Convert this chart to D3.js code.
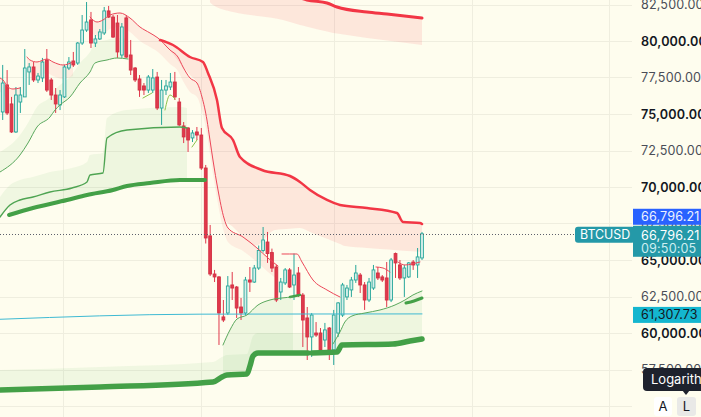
<!DOCTYPE html>
<html>
<head>
<meta charset="utf-8">
<script src="https://cdn.jsdelivr.net/npm/d3@7"></script>
<style>
  html, body { margin: 0; padding: 0; background: #fefdee; overflow: hidden; }
  svg { display: block; font-family: Inter, "Noto Sans", sans-serif; }
</style>
</head>
<body>
<svg id="chart" width="701" height="417"></svg>
<script>
// candles, oldest first
var candleOpen = [75140, 76990, 75690, 73770, 75820, 76170, 77880, 78220, 77330, 77470,
  78700, 77330, 76300, 75620, 76170, 78150, 78630, 78490, 79860, 80750,
  81440, 79860, 80140, 80550, 82060, 81640, 81230, 79040, 81580, 79040,
  78150, 77400, 76920, 76640, 76640, 77530, 75410, 76640, 76850, 77190,
  75820, 74180, 74040, 73360, 73770, 73560, 71300, 66650, 64040, 63840,
  61100, 61370, 63290, 63150, 61780, 61370, 63630, 63490, 64450, 65650,
  66230, 65510, 64520, 62810, 63430, 64320, 63290, 64110, 62600, 61030,
  59730, 60000, 60000, 59520, 60340, 58840, 60000, 61230, 62470, 62950,
  63630, 63970, 63290, 62260, 63080, 64110, 63840, 63770, 62260, 65440,
  64660, 63770, 63840, 64860, 64660, 65140];
var candleHigh = [78360, 78010, 76170, 76850, 76850, 79450, 78490, 78560, 77810, 78840,
  79450, 77470, 76780, 76640, 78360, 78900, 79250, 79930, 81780, 82670,
  81990, 80410, 80820, 82330, 82400, 81780, 81780, 81230, 81780, 80070,
  78220, 77670, 77120, 77670, 78080, 77880, 77330, 77330, 77810, 77880,
  76100, 74450, 74110, 73900, 74110, 74040, 71510, 67400, 64320, 63900,
  62260, 63900, 64180, 63220, 62400, 63840, 64520, 64660, 65990, 67260,
  66920, 65780, 64660, 63770, 64450, 64450, 65440, 64520, 62740, 61780,
  61370, 60750, 60340, 60690, 60410, 61580, 62120, 63430, 63290, 63840,
  64660, 64110, 63490, 63770, 64660, 64520, 63970, 64860, 65140, 65510,
  65000, 64660, 64860, 65000, 65820, 66920];
var candleLow = [74590, 74930, 73700, 73700, 75070, 76170, 76990, 77190, 77120, 77190,
  76510, 75960, 75070, 75270, 76100, 78010, 78220, 78360, 79730, 80620,
  79520, 79590, 80070, 80410, 81580, 80210, 78840, 78840, 78840, 77670,
  77190, 76170, 76300, 76440, 76440, 75270, 74250, 76300, 76640, 75960,
  74180, 73010, 72400, 73080, 73220, 71170, 66130, 63900, 63490, 59180,
  60750, 61230, 62260, 61030, 60890, 61230, 62810, 63430, 64320, 65510,
  64800, 64180, 62120, 62260, 63290, 63080, 62260, 62470, 59040, 58150,
  58360, 59730, 58630, 59040, 58150, 57810, 59730, 61100, 62260, 62470,
  63430, 62740, 61580, 62120, 62950, 63630, 63490, 61780, 62120, 63770,
  63630, 62470, 63770, 64320, 63770, 65000];
var candleClose = [77120, 75070, 73770, 76300, 76300, 78150, 78220, 77330, 77600, 78560,
  76640, 76300, 75690, 76300, 78220, 78560, 78360, 79860, 80750, 81300,
  79860, 80140, 80620, 82060, 81640, 80270, 79250, 80960, 78900, 78010,
  77330, 76640, 76640, 77530, 77470, 75410, 76640, 76920, 77190, 76170,
  74250, 73430, 73220, 73700, 73560, 71300, 66510, 64040, 63840, 61370,
  60890, 63220, 63080, 61710, 61370, 63630, 63490, 64450, 65650, 66370,
  65440, 64450, 62260, 63490, 64320, 63150, 63970, 62600, 60890, 59730,
  61230, 59860, 58840, 60210, 58700, 61230, 62060, 63290, 63080, 63630,
  64110, 63290, 62260, 63490, 64320, 63770, 63630, 62260, 65000, 64800,
  63770, 64450, 64800, 64660, 65210, 66796.21];

var symbol = "BTCUSD";
var lastPrice = 66796.21;
var lastTime = "09:50:05";
var refPrice = 61307.73;

// axis
var gridPrices = [55000, 57500, 60000, 62500, 65000, 67500, 70000, 72500, 75000, 77500, 80000, 82500];
var labelPrices = [57500, 60000, 62500, 65000, 67500, 70000, 72500, 75000, 77500, 80000, 82500];
var gridIdx = [13.7, 45, 75, 106.3, 137.4];

// band lines, [candle index, price]
var redFar = [[46.96, 84863], [58.29, 83835], [65.09, 83219], [68.94, 82808], [73.47, 82603], [75.74, 82329], [82.53, 81986], [87.07, 81849], [95, 81575]];
var redFarLow = [[45.83, 82945], [47.64, 82466], [52.17, 81986], [63.5, 81438], [67.35, 81096], [74.83, 80548], [82.53, 80205], [95, 79726]];
var redOuter = [[35.64, 80068], [38.58, 79726], [42.43, 78904], [45.38, 78562], [46.51, 77808], [48.55, 75959], [49.68, 74041], [52.18, 73219], [53.76, 72055], [58.74, 71165], [65.09, 70754], [67.35, 70343], [69.62, 69795], [73.47, 69110], [76.42, 68768], [82.53, 68562], [89.33, 68220], [90.69, 67603], [94.54, 67535], [95, 67466]];
var pinkLow = [[35.64, 80068], [37.9, 79384], [40.85, 78219], [44.02, 77123], [45.15, 76165], [46.28, 74589], [47.64, 71850], [48.78, 69795], [50.13, 67877], [54.44, 66576], [57.61, 65993], [61.69, 67055], [67.35, 67192], [74.15, 66370], [77.55, 65959], [85.48, 65754], [95, 65549]];
var redIn1 = [[-0.61, 77466], [0.07, 77329], [1.2, 76849], [2.33, 76712], [3.92, 76781]];
var redIn2 = [[5.51, 78904], [6.18, 78699], [7.77, 78562], [10.04, 78767], [11.4, 78562], [13.66, 78356], [15.93, 78562]];
var redIn3 = [[19.78, 81644], [21.36, 81301], [22.72, 81438], [24.31, 81781], [26.57, 81918], [28.84, 81575], [31.1, 80959], [33.37, 80548], [35.18, 80206], [37.9, 79384], [39.71, 78904], [40.85, 78219], [42.43, 77466], [44.02, 77123], [45.15, 76165], [46.28, 74589], [46.96, 73219], [47.64, 71850], [48.78, 69795], [50.13, 67877], [51.04, 67193], [54.44, 66576], [57.61, 65822], [60.1, 65137], [62.37, 64590]];
var redIn4 = [[63.28, 65412], [66.67, 65412], [67.81, 64864], [70.3, 63631], [73.47, 62946], [76.41, 62466]];
var redIn5 = [[84.57, 64521], [86.16, 64453], [87.74, 64179]];
var redIn6 = [[89.55, 64864], [91.14, 64658], [92.73, 64727], [94.54, 64864]];

var greenIn1 = [[-0.61, 71028], [3.92, 72192], [5.73, 73014], [7.77, 74110], [10.72, 74795], [11.85, 75274], [12.98, 75617], [15.25, 76165], [17.51, 77123], [19.78, 77877], [20.91, 78493], [23.63, 78699], [25.89, 78836], [28.39, 78767]];
var greenIn2 = [[-0.61, 67946], [1.65, 68768], [3.92, 69110], [6.86, 69316], [10.72, 69658], [15.7, 69932], [19.1, 70343], [19.78, 70822], [22.72, 70959], [23.63, 73356], [28.16, 73904], [40.17, 74110], [41.75, 74041]];
var greenOut1 = [[1.43, 68083], [6.86, 68562], [14.57, 69110], [19.1, 69453], [24.99, 69795], [28.16, 70069], [33.37, 70274], [40.17, 70480], [45.83, 70480]];
var greenBits = [
  [[31.78, 76096], [33.82, 76439]],
  [[36.77, 75274], [37.9, 76302], [39.02, 76028]],
  [[42.89, 72740], [44.02, 73219]]
];
var greenOut2a = [[-0.61, 56097], [22.04, 56303], [47.64, 56645], [49.68, 56988], [50.82, 57124], [55.34, 57193], [56.03, 57741], [56.71, 58425], [57.85, 58631], [69.17, 58631]];
var greenOut2b = [[70.07, 58631], [75.74, 58700], [76.87, 59179], [88.42, 59248], [92.27, 59453], [95, 59590]];
var greenIn3 = [[49.91, 59179], [51.49, 60206], [53.08, 60959], [55.34, 61233], [57.84, 61918], [60.56, 62261], [63.28, 62398], [65.77, 62466]];
var greenIn4 = [[74.83, 59248], [76.41, 60069], [77.52, 60754], [79.13, 61165], [82.08, 61370], [85.48, 61576], [88.88, 61918], [91.14, 62261], [92.95, 62603], [95, 62877]];
var greenOut3 = [[91.37, 62055], [93.19, 62192], [95, 62398]];
var greenOut4 = [[65.09, 62466], [67.35, 62603]];

var cyanLine = [[-0.7, 60939], [44.7, 61290], [95, refPrice]];

var W = 701, H = 417, plotRight = 632;
var svg = d3.select("#chart");

var x = d3.scaleLinear().domain([0, 95]).range([2.7, 422]);
var y = d3.scaleLinear().domain([55000, 82500]).range([406, 4.5]);

svg.append("rect").attr("width", W).attr("height", H).attr("fill", "#fefdee");
svg.append("defs").append("clipPath").attr("id", "plot")
  .append("rect").attr("width", plotRight).attr("height", H);

// grid
svg.append("g").selectAll("line").data(gridPrices).enter().append("line")
  .attr("x1", 0).attr("x2", plotRight)
  .attr("y1", function(d) { return Math.round(y(d)) + 0.5; })
  .attr("y2", function(d) { return Math.round(y(d)) + 0.5; })
  .attr("stroke", "#efeedf");
svg.append("g").selectAll("line").data(gridIdx).enter().append("line")
  .attr("x1", function(d) { return Math.round(x(d)) + 0.5; })
  .attr("x2", function(d) { return Math.round(x(d)) + 0.5; })
  .attr("y1", 0).attr("y2", H)
  .attr("stroke", "#efeedf");

var plot = svg.append("g").attr("clip-path", "url(#plot)");

var line = d3.line()
  .x(function(d) { return x(d[0]); })
  .y(function(d) { return y(d[1]); })
  .curve(d3.curveMonotoneX);

// fill between two lines over the index range they share
function band(top, bot) {
  var lo = Math.max(top[0][0], bot[0][0]);
  var hi = Math.min(top[top.length - 1][0], bot[bot.length - 1][0]);
  var ft = d3.scaleLinear().domain(top.map(function(d) { return d[0]; })).range(top.map(function(d) { return d[1]; }));
  var fb = d3.scaleLinear().domain(bot.map(function(d) { return d[0]; })).range(bot.map(function(d) { return d[1]; }));
  var xs = top.concat(bot).map(function(d) { return d[0]; })
    .filter(function(v) { return v >= lo && v <= hi; });
  xs.push(lo, hi);
  xs = Array.from(new Set(xs)).sort(d3.ascending);
  return xs.map(function(v) { return { i: v, t: ft(v), b: fb(v) }; });
}
var bandArea = d3.area()
  .x(function(d) { return x(d.i); })
  .y0(function(d) { return y(d.b); })
  .y1(function(d) { return y(d.t); })
  .curve(d3.curveMonotoneX);

// soft strip on one side of a line
function strip(data, h, color) {
  plot.append("path").datum(data)
    .attr("fill", color)
    .attr("d", d3.area()
      .x(function(d) { return x(d[0]); })
      .y0(function(d) { return y(d[1]); })
      .y1(function(d) { return y(d[1]) + h; })
      .curve(d3.curveMonotoneX));
}

var pink = "rgba(242,54,69,0.11)", lightGreen = "rgba(76,175,80,0.09)";

plot.append("path").datum(band(redFar, redFarLow)).attr("fill", pink).attr("d", bandArea);
plot.append("path").datum(band(redOuter, pinkLow)).attr("fill", pink).attr("d", bandArea);
[redIn1, redIn2, redIn3].forEach(function(d) { strip(d, 14, "rgba(242,54,69,0.08)"); });

plot.append("path").datum(band(greenIn2, greenOut1)).attr("fill", lightGreen).attr("d", bandArea);
plot.append("path").datum(band(greenIn3, greenOut2a)).attr("fill", lightGreen).attr("d", bandArea);
plot.append("path").datum(band(greenIn4, greenOut2b)).attr("fill", lightGreen).attr("d", bandArea);
[greenIn1, greenIn2, greenOut2a].forEach(function(d) { strip(d, -20, "rgba(76,175,80,0.08)"); });

// candles
var idx = d3.range(candleOpen.length);
var up = function(i) { return candleClose[i] >= candleOpen[i]; };
var candles = plot.append("g").selectAll("g").data(idx).enter().append("g");
candles.append("line")
  .attr("x1", function(i) { return x(i); })
  .attr("x2", function(i) { return x(i); })
  .attr("y1", function(i) { return y(candleHigh[i]); })
  .attr("y2", function(i) { return y(candleLow[i]); })
  .attr("stroke", function(i) { return up(i) ? "#26a69a" : "#e0394c"; })
  .attr("stroke-width", 1);
candles.append("rect")
  .attr("x", function(i) { return x(i) - 1.4; })
  .attr("width", 2.8)
  .attr("y", function(i) { return y(Math.max(candleOpen[i], candleClose[i])); })
  .attr("height", function(i) { return Math.max(1, Math.abs(y(candleOpen[i]) - y(candleClose[i]))); })
  .attr("fill", function(i) { return up(i) ? "#d7efe9" : "#e0394c"; })
  .attr("stroke", function(i) { return up(i) ? "#26a69a" : "#d23043"; })
  .attr("stroke-width", 0.9);

// band lines
function drawLine(data, color, width) {
  plot.append("path").datum(data)
    .attr("fill", "none")
    .attr("stroke", color)
    .attr("stroke-width", width)
    .attr("stroke-linecap", "round")
    .attr("stroke-linejoin", "round")
    .attr("d", line);
}
drawLine(cyanLine, "#3fbad3", 1);
drawLine(redFar, "#f23645", 3);
drawLine(redOuter, "#f23645", 2.5);
[redIn1, redIn2, redIn3, redIn4, redIn5, redIn6].forEach(function(d) { drawLine(d, "#ec4658", 1); });
drawLine(greenOut1, "#43a047", 4);
drawLine(greenOut2a, "#43a047", 5.5);
drawLine(greenOut2b, "#43a047", 5.5);
drawLine(greenOut3, "#43a047", 3);
drawLine(greenOut4, "#43a047", 2.5);
[greenIn1, greenIn3, greenIn4].forEach(function(d) { drawLine(d, "#5aa85d", 1); });
drawLine(greenIn2, "#4ea452", 1.4);
greenBits.forEach(function(d) { drawLine(d, "#8bc34a", 1); });

// last price dotted line
var yLast = y(lastPrice);
svg.append("line")
  .attr("x1", 0).attr("x2", 575)
  .attr("y1", Math.round(yLast) + 0.5).attr("y2", Math.round(yLast) + 0.5)
  .attr("stroke", "#5d606b").attr("stroke-dasharray", "1 2");

var fmt = d3.format(",.2f");
var fs = 12.6;

// price scale labels
svg.append("g").selectAll("text").data(labelPrices).enter().append("text")
  .attr("x", 641)
  .attr("y", function(d) { return y(d); })
  .attr("dy", "0.36em")
  .attr("font-size", fs)
  .attr("letter-spacing", 0.15)
  .attr("font-weight", function(d) { return d % 5000 === 0 ? 600 : 400; })
  .attr("fill", function(d) { return d % 5000 === 0 ? "#131722" : "#4a4d57"; })
  .text(function(d) { return fmt(d); });

var teal = "#2499a8";

// price tags
svg.append("rect").attr("x", 633).attr("y", yLast - 25).attr("width", 68).attr("height", 16).attr("fill", "#2962ff");
svg.append("text").attr("x", 641).attr("y", yLast - 17).attr("dy", "0.36em").attr("letter-spacing", 0.15)
  .attr("font-size", fs).attr("fill", "#eef2ff").text(fmt(lastPrice));
svg.append("rect").attr("x", 633).attr("y", yLast - 8).attr("width", 68).attr("height", 31).attr("fill", teal);
svg.append("text").attr("x", 641).attr("y", yLast + 1.5).attr("dy", "0.36em").attr("letter-spacing", 0.15)
  .attr("font-size", fs).attr("fill", "#ffffff").text(fmt(lastPrice));
svg.append("text").attr("x", 641).attr("y", yLast + 15).attr("dy", "0.36em").attr("letter-spacing", 0.15)
  .attr("font-size", fs).attr("fill", "#cdeef1").text(lastTime);
svg.append("rect").attr("x", 575).attr("y", yLast - 7).attr("width", 60).attr("height", 16).attr("rx", 3).attr("fill", teal);
svg.append("text").attr("x", 580).attr("y", yLast + 1).attr("dy", "0.36em")
  .attr("font-size", 12.4).attr("fill", "#ffffff").text(symbol);

var yRef = y(refPrice);
svg.append("rect").attr("x", 633).attr("y", yRef - 7).attr("width", 68).attr("height", 16).attr("fill", "#14b6cf");
svg.append("text").attr("x", 641).attr("y", yRef + 1).attr("dy", "0.36em").attr("letter-spacing", 0.15)
  .attr("font-size", fs).attr("fill", "#131722").text(fmt(refPrice));

// scale mode tooltip and buttons
svg.append("rect").attr("x", 643).attr("y", 368).attr("width", 66).attr("height", 23).attr("rx", 4).attr("fill", "#1e222d");
svg.append("path").attr("d", "M682,390L690,390L686,395Z").attr("fill", "#1e222d");
svg.append("text").attr("x", 651).attr("y", 379.5).attr("dy", "0.36em")
  .attr("font-size", 13).attr("fill", "#ffffff").text("Logarithmic");
svg.append("rect").attr("x", 654).attr("y", 397).attr("width", 18).attr("height", 19).attr("rx", 3).attr("fill", "#ffffff");
svg.append("rect").attr("x", 677).attr("y", 397).attr("width", 19).attr("height", 19).attr("rx", 3).attr("fill", "#e9e9e7");
svg.append("text").attr("x", 663).attr("y", 406.5).attr("dy", "0.36em").attr("text-anchor", "middle")
  .attr("font-size", 13).attr("fill", "#131722").text("A");
svg.append("text").attr("x", 686.5).attr("y", 406.5).attr("dy", "0.36em").attr("text-anchor", "middle")
  .attr("font-size", 13).attr("fill", "#131722").text("L");
</script>
</body>
</html>
